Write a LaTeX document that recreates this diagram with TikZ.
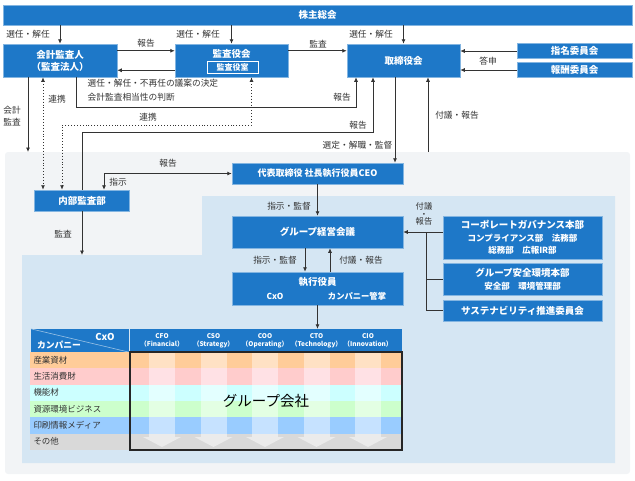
\documentclass[tikz,border=0pt]{standalone}
\usepackage{fontspec}
\setmainfont{Noto Sans CJK JP}
\usetikzlibrary{positioning,arrows.meta}

\definecolor{boxblue}{HTML}{1E78C8}
\definecolor{linegray}{HTML}{333333}
\definecolor{panelgray}{HTML}{F2F4F6}
\definecolor{panelblue}{HTML}{D5E6F3}
\definecolor{orD}{HTML}{FFCC99}\definecolor{orL}{HTML}{FFE1C4}
\definecolor{pkD}{HTML}{FFCCCC}\definecolor{pkL}{HTML}{FFE1E5}
\definecolor{cyD}{HTML}{CCFFFF}\definecolor{cyL}{HTML}{E3FFFF}
\definecolor{grD}{HTML}{CCFFCC}\definecolor{grL}{HTML}{E3FFE3}
\definecolor{buD}{HTML}{99CCFF}\definecolor{buL}{HTML}{C6E2FF}
\definecolor{gyD}{HTML}{D9D9D9}\definecolor{gyL}{HTML}{EBEBEB}

\tikzset{
  bluebox/.style={fill=boxblue, draw=boxblue!55!white, line width=0.5pt, text=white,
    font=\bfseries\fontsize{9.5}{12}\selectfont, inner sep=0pt, align=center},
  wt/.style={text=white, font=\bfseries\fontsize{9.5}{12}\selectfont, inner sep=0pt},
  wts/.style={text=white, font=\bfseries\fontsize{8.3}{10}\selectfont, inner sep=0pt},
  lbl/.style={text=linegray, font=\fontsize{8.7}{10}\selectfont, inner sep=0.5pt, align=center},
  arr/.style={-{Latex[length=4.5pt,width=4pt]}, draw=linegray, line width=0.8pt},
  arrs/.style={{Latex[length=4.5pt,width=4pt]}-{Latex[length=4.5pt,width=4pt]}, draw=linegray, line width=0.8pt},
  dotarr/.style={{Latex[length=4.5pt,width=4pt]}-{Latex[length=4.5pt,width=4pt]}, draw=linegray, line width=0.9pt, dotted},
  line/.style={draw=linegray, line width=0.8pt},
  rowlbl/.style={minimum width=100pt, minimum height=16.3pt, inner sep=0pt, text width=93pt,
    align=left, text=linegray, font=\fontsize{8.5}{9}\selectfont},
  hdr/.style={text=white, font=\bfseries\fontsize{6.5}{8}\selectfont, inner sep=0pt, align=center}
}

\begin{document}
\begin{tikzpicture}[x=1pt, y=-1pt]
  \useasboundingbox (0,0) rectangle (635,480);

  % panels
  \fill[panelgray, rounded corners=3pt] (5,152) rectangle (630,474);
  \fill[panelblue] (22,255) -- (202,255) -- (202,196) -- (615,196) -- (615,463) -- (22,463) -- cycle;

  % top
  \node[bluebox, minimum width=629pt, minimum height=20pt] (kabunushi) at (317.5,15) {株主総会};
  \node[bluebox, minimum width=114pt, minimum height=33pt] (kaikei) at (60,60.5) {会計監査人\\（監査法人）};
  \node[bluebox, minimum width=113pt, minimum height=33pt] (kansa) at (231.5,60.5) {};
  \node[wt] (kansat) at ([yshift=-10pt]kansa.north) {監査役会};
  \node[bluebox, draw=white, line width=0.8pt, minimum width=51pt, minimum height=12pt,
    font=\bfseries\fontsize{8}{10}\selectfont] (shitsu) at ([xshift=1pt,yshift=10pt]kansa.south) {監査役室};
  \node[bluebox, minimum width=113pt, minimum height=33pt] (torishimari) at (403.5,60.5) {取締役会};
  \node[bluebox, minimum width=115pt, minimum height=15pt] (shimei) at (574.5,51) {指名委員会};
  \node[bluebox, minimum width=115pt, minimum height=15pt] (houshu) [below=3.5pt of shimei] {報酬委員会};

  \draw[arr] (kaikei |- kabunushi.south) -- (kaikei.north);
  \draw[arr] (kansa |- kabunushi.south) -- (kansa.north);
  \draw[arr] (torishimari |- kabunushi.south) -- (torishimari.north);
  \node[lbl] (sen1) at (28,34) {選任・解任};
  \node[lbl] (sen2) at (198,34) {選任・解任};
  \node[lbl] (sen3) at (371,34) {選任・解任};

  \draw[arr] ([yshift=-7pt]kaikei.north east) -- ([yshift=-7pt]kansa.north west);
  \draw[arr] ([yshift=7pt]kansa.south west) -- ([yshift=7pt]kaikei.south east);
  \draw[arr] ([yshift=-7pt]kansa.north east) -- ([yshift=-7pt]torishimari.north west);
  \draw[arr] (shimei.west) -- (torishimari.east |- shimei.west);
  \draw[arr] (houshu.west) -- (torishimari.east |- houshu.west);
  \node[lbl] (hou1) at (146,43) {報告};
  \node[lbl] (kan1) at (318,44) {監査};
  \node[lbl] (toshin) at (488,61) {答申};
  \node[lbl, align=left, anchor=west, font=\fontsize{8.7}{13.5}\selectfont] (giann) at (87,90) {選任・解任・不再任の議案の決定\\会計監査相当性の判断};

  % reports to board
  \node[bluebox, minimum width=95pt, minimum height=21pt] (naibu) at (82,200.5) {内部監査部};
  \coordinate (rep1) at (356,107);
  \coordinate (rep2) at (373,132);
  \draw[arr] ([xshift=16pt]kaikei.south) |- (rep1) -- (rep1 |- torishimari.south);
  \draw[arr] (naibu.north) |- (rep2) -- (rep2 |- torishimari.south);
  \node[lbl] (hou2) at (342,97) {報告};
  \node[lbl] (hou3) at (358,125) {報告};

  % cooperation
  \coordinate (ren) at (62,125);
  \draw[dotarr] ([xshift=20pt]kansa.south) |- (ren) -- (ren |- naibu.north);
  \draw[dotarr] ([xshift=-17pt]kaikei.south) -- ([xshift=-17pt]kaikei.south |- naibu.north);
  \node[lbl] (ren1) at (148,117) {連携};
  \node[lbl] (ren2) at (57,99) {連携};

  \coordinate (kaikeiend) at (28,152);
  \draw[arr] (kaikeiend |- kaikei.south) -- (kaikeiend);
  \node[lbl, font=\fontsize{8.7}{12}\selectfont] (kaikan) at (12,116) {会計\\監査};

  % executive side
  \node[bluebox, minimum width=171pt, minimum height=21pt, font=\bfseries\fontsize{9}{11}\selectfont] (ceo) at (317.5,173.5) {代表取締役 社長執行役員CEO};
  \coordinate (fugi) at (428,152);
  \draw[arr] ([xshift=-8.5pt]torishimari.south) -- ([xshift=-8.5pt]torishimari.south |- ceo.north);
  \draw[arr] (fugi) -- (fugi |- torishimari.south);
  \node[lbl, anchor=east] (sentei) at (393,145) {選定・解職・監督};
  \node[lbl] (fugi1) at (457,115) {付議・報告};

  \draw[arrs] (ceo.west) -| ([xshift=22pt]naibu.north);
  \node[lbl] (hou4) at (168,163) {報告};
  \node[lbl] (shiji) at (118,182) {指示};
  \coordinate (kansaend) at (82,255);
  \draw[arr] (naibu.south) -- (kansaend);
  \node[lbl] (kan2) at (63,234) {監査};

  \node[bluebox, minimum width=171pt, minimum height=32pt] (keiei) at (317.5,232) {グループ経営会議};
  \node[bluebox, minimum width=171pt, minimum height=33pt] (shikko) at (317.5,288.5) {};
  \node[wt] (shikkot) at ([yshift=-10pt]shikko.north) {執行役員};
  \node[wts] (cxo) at ([xshift=-42.5pt,yshift=9pt]shikko.south) {CxO};
  \node[wts] (kansho) at ([xshift=39.5pt,yshift=9pt]shikko.south) {カンパニー管掌};
  \draw[arr] (ceo.south) -- (keiei.north);
  \draw[arr] ([xshift=-12.5pt]keiei.south) -- ([xshift=-12.5pt]shikko.north);
  \draw[arr] ([xshift=12.5pt]shikko.north) -- ([xshift=12.5pt]keiei.south);
  \node[lbl] (shikan1) at (289,206) {指示・監督};
  \node[lbl] (shikan2) at (275,260) {指示・監督};
  \node[lbl] (fugi2) at (361,260) {付議・報告};

  % staff divisions
  \node[bluebox, minimum width=159pt, minimum height=43pt, font=\bfseries\fontsize{8.5}{12.5}\selectfont] (cg) at (522.5,237.5)
    {{\fontsize{9.5}{12.5}\selectfont コーポレートガバナンス本部}\\コンプライアンス部　法務部\\総務部　広報IR部};
  \node[bluebox, minimum width=159pt, minimum height=32pt, font=\bfseries\fontsize{8.5}{13}\selectfont] (anzen) [below=4pt of cg]
    {{\fontsize{9.5}{13}\selectfont グループ安全環境本部}\\安全部　環境管理部};
  \node[bluebox, minimum width=159pt, minimum height=21pt] (sustain) [below=4pt of anzen] {サステナビリティ推進委員会};
  \coordinate (jn) at (426,232);
  \draw[arr] (cg.west |- keiei.east) -- (keiei.east);
  \draw[line] (anzen.west) -| (jn);
  \draw[line] (sustain.west) -| (jn);
  \node[lbl, font=\fontsize{8.3}{7.5}\selectfont] (fugi3) at (424,214) {付議\\・\\報告};

  % company / CxO matrix
  \node[fill=boxblue, minimum width=98pt, minimum height=23pt, inner sep=0pt] (kphead) at (80,340.5) {};
  \draw[boxblue!45!white, line width=0.6pt] (kphead.north west) -- (kphead.south east);
  \node[wt] (cxot) at (105,337) {CxO};
  \node[wts, font=\bfseries\fontsize{8.8}{10}\selectfont] (kpt) at (59,345) {カンパニー};
  \node[fill=boxblue, minimum width=272pt, minimum height=23pt, inner sep=0pt] (cxohead) at (266,340.5) {};
  \foreach \t/\s [count=\c from 0] in {CFO/Financial, CSO/Strategy, COO/Operating, CTO/Technology, CIO/Innovation}
    \node[hdr] (hd\c) at (162+51.5*\c,340.5) {\t\\（\s）};
  \draw[arr] (shikko.south) -- (shikko.south |- cxohead.north);

  \foreach \rname/\dk/\lt [count=\i from 0] in {産業資材/orD/orL, 生活消費財/pkD/pkL, 機能材/cyD/cyL,
      資源環境ビジネス/grD/grL, 印刷情報メディア/buD/buL}{
    \fill[\dk] (130,352+16.3*\i) rectangle (402,368.3+16.3*\i);
    \foreach \c in {0,...,4}
      \fill[\lt] (149+51.5*\c,352+16.3*\i) rectangle (175+51.5*\c,368.3+16.3*\i);
    \node[rowlbl, fill=\dk] (row\i) at (80,360.15+16.3*\i) {\rname};
  }
  \fill[gyD] (130,433.5) rectangle (402,449.8);
  \foreach \c in {0,...,4}{
    \fill[gyL] (149+51.5*\c,433.5) rectangle (175+51.5*\c,437);
    \fill[gyL] (143+51.5*\c,437) -- (181+51.5*\c,437) -- (162+51.5*\c,447) -- cycle;
  }
  \node[rowlbl, fill=gyD] (row5) at (80,441.65) {その他};
  \node[draw=black!85, line width=1.3pt, minimum width=272pt, minimum height=98pt, inner sep=0pt,
    font=\fontsize{14.5}{16}\selectfont] (grp) at (266,401) {グループ会社};
\end{tikzpicture}
\end{document}
